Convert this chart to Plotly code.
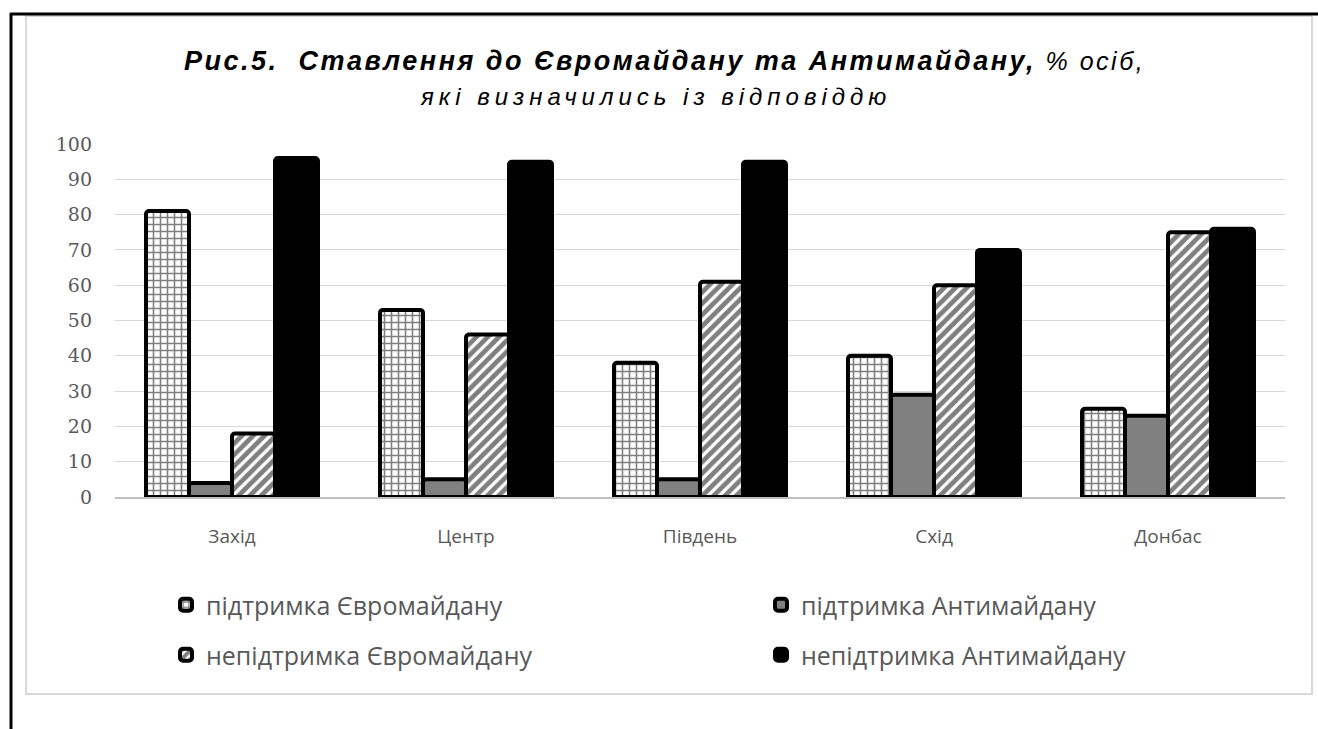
import plotly.graph_objects as go

categories = ["Захід", "Центр", "Південь", "Схід", "Донбас"]
euro_support = [81, 53, 38, 40, 25]
anti_support = [4, 5, 5, 29, 23]
euro_nonsupport = [18, 46, 61, 60, 75]
anti_nonsupport = [96, 95, 95, 70, 76]
series_names = ["підтримка Євромайдану", "підтримка Антимайдану",
                "непідтримка Євромайдану", "непідтримка Антимайдану"]
y_ticks = [0, 10, 20, 30, 40, 50, 60, 70, 80, 90, 100]

W, H = 1318, 729
L, R, T, B = 115, 1285, 144, 497  # plot area in page pixels


def px_x(px):
    return (px - L) / (R - L)


def px_y(py):
    return (B - py) / (B - T)


fig = go.Figure()
line = dict(color="black", width=4)
fig.add_trace(go.Bar(name=series_names[0], x=categories, y=euro_support,
                     marker=dict(color="white", line=line,
                                 pattern=dict(shape="+", fgcolor="black", bgcolor="white",
                                              size=7, solidity=0.4)),
                     legend="legend"))
fig.add_trace(go.Bar(name=series_names[1], x=categories, y=anti_support,
                     marker=dict(color="#808080", line=line), legend="legend2"))
fig.add_trace(go.Bar(name=series_names[2], x=categories, y=euro_nonsupport,
                     marker=dict(color="white", line=line,
                                 pattern=dict(shape="/", fgcolor="black", bgcolor="white",
                                              size=8, solidity=0.6)),
                     legend="legend3"))
fig.add_trace(go.Bar(name=series_names[3], x=categories, y=anti_nonsupport,
                     marker=dict(color="black", line=line), legend="legend4"))

legend_font = dict(family="Open Sans", size=25, color="#595959")


def leg(px, py):
    return dict(orientation="h", x=px_x(px), y=px_y(py), xanchor="left", yanchor="middle",
                font=legend_font, bgcolor="rgba(0,0,0,0)")


fig.update_layout(
    width=W, height=H,
    margin=dict(l=L, r=W - R, t=T, b=H - B, pad=0, autoexpand=False),
    paper_bgcolor="white", plot_bgcolor="white",
    barmode="group", bargap=0.265, bargroupgap=0, barcornerradius=3,
    showlegend=True,
    legend=leg(166, 605),
    legend2=leg(761, 605),
    legend3=leg(166, 655),
    legend4=leg(761, 655),
    xaxis=dict(showgrid=False, showline=True, linecolor="#bfbfbf", linewidth=2,
               ticks="", ticklabelstandoff=21,
               tickfont=dict(family="Open Sans", size=19, color="#595959")),
    yaxis=dict(range=[0, 100], tickvals=y_ticks, showgrid=True, gridcolor="#d9d9d9",
               gridwidth=1, zeroline=False, showline=False, ticks="",
               ticklabelstandoff=22,
               tickfont=dict(family="DejaVu Serif", size=19, color="#595959")),
    annotations=[
        dict(xref="paper", yref="paper", x=px_x(664), y=px_y(61), xanchor="center", yanchor="middle",
             showarrow=False,
             text="<span style='letter-spacing:2.5px'><b><i>Рис.5.\u00a0\u00a0Ставлення до Євромайдану та Антимайдану,</i></b>"
                  "<i><span style='font-size:25px'> % осіб,</span></i></span>",
             font=dict(family="Liberation Sans", size=27, color="black")),
        dict(xref="paper", yref="paper", x=px_x(655), y=px_y(96), xanchor="center", yanchor="middle",
             showarrow=False,
             text="<span style='letter-spacing:5px'><i>які визначились із відповіддю</i></span>",
             font=dict(family="Liberation Sans", size=24, color="black")),
    ],
    shapes=[
        dict(type="rect", xref="paper", yref="paper", x0=px_x(26), x1=px_x(1312),
             y0=px_y(694), y1=px_y(16), line=dict(color="#d9d9d9", width=2), layer="below"),
        dict(type="line", xref="paper", yref="paper", x0=px_x(10), x1=px_x(1320),
             y0=px_y(14), y1=px_y(14), line=dict(color="black", width=3)),
        dict(type="line", xref="paper", yref="paper", x0=px_x(11), x1=px_x(11),
             y0=px_y(13), y1=px_y(731), line=dict(color="black", width=3)),
    ],
)

# remove the default 8px page margin so the figure fills the window exactly
fig.write_html("out.html", config={"displayModeBar": False},
               post_script="document.body.style.margin='0';")
